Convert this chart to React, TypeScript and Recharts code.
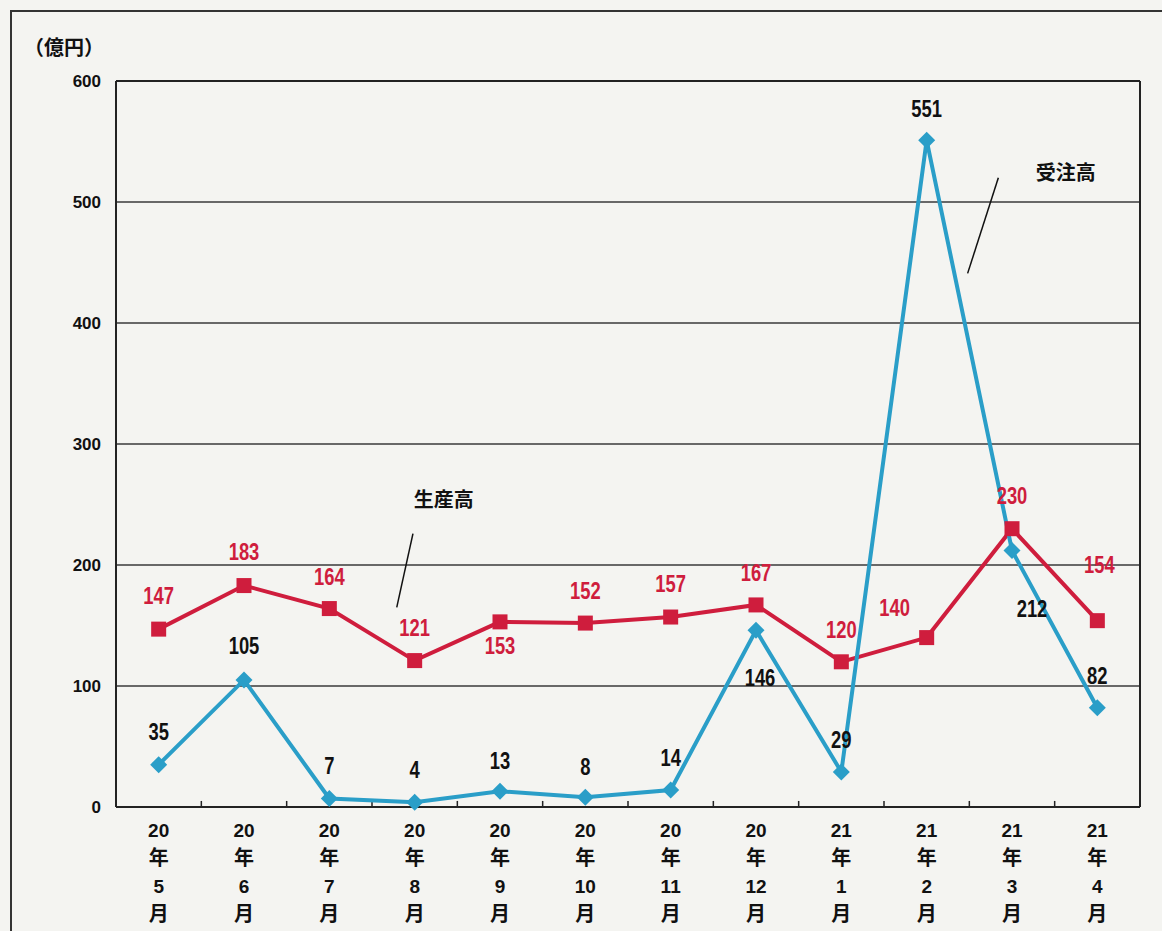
import React from "react";
import {
  LineChart, Line, XAxis, YAxis, CartesianGrid, ReferenceLine, ReferenceDot, LabelList,
} from "recharts";

const years = ["20", "20", "20", "20", "20", "20", "20", "20", "21", "21", "21", "21"];
const months = ["5", "6", "7", "8", "9", "10", "11", "12", "1", "2", "3", "4"];
const production = [147, 183, 164, 121, 153, 152, 157, 167, 120, 140, 230, 154];
const orders = [35, 105, 7, 4, 13, 8, 14, 146, 29, 551, 212, 82];
const yTicks = [0, 100, 200, 300, 400, 500, 600];

// where each value label sits relative to its point (dx, dy in px)
const prodLabelOffset = [
  [0, -33], [0, -34], [0, -32], [0, -33], [0, 24], [0, -32],
  [0, -33], [0, -32], [0, -32], [-32, -30], [0, -33], [2, -56],
];
const orderLabelOffset = [
  [0, -33], [0, -34], [0, -33], [0, -32], [0, -31], [0, -31],
  [0, -32], [4, 47], [0, -32], [0, -32], [20, 58], [0, -32],
];

const RED = "#cf1d3d";
const BLUE = "#2a9ec8";
const SANS = "'Liberation Sans', Arial, sans-serif";
const JP_FONT = "'Noto Sans CJK JP', 'Liberation Sans', sans-serif";

const data = years.map((y, i) => ({
  cat: `${y}年${months[i]}月`,
  idx: i,
  prod: production[i],
  orders: orders[i],
}));

const boundaries = years.slice(1).map((_, i) => i + 0.5);

const MonthTick = ({ x, y, index, payload }: any) => {
  const i = typeof index === "number" ? index : data.findIndex((d) => d.cat === payload.value);
  const lines = [years[i], "年", months[i], "月"];
  return (
    <text x={x} y={y} textAnchor="middle" fill="#111" fontWeight="bold">
      {lines.map((t, k) => (
        <tspan
          key={k}
          x={x}
          dy={28}
          fontSize={k % 2 === 1 ? 20 : 19}
          fontFamily={k % 2 === 1 ? JP_FONT : SANS}
        >
          {t}
        </tspan>
      ))}
    </text>
  );
};

const ValueTick = ({ x, y, payload }: any) => (
  <text x={x} y={y} textAnchor="end" dominantBaseline="central" fill="#111" fontSize={17} fontWeight="bold" fontFamily={SANS}>
    {payload.value}
  </text>
);

const makeLabel = (color: string, offsets: number[][]) => (props: any) => {
  const { x, y, value, index } = props;
  const [dx, dy] = offsets[index] || [0, -32];
  return (
    <text
      transform={`translate(${x + dx},${y + dy}) scale(0.8,1)`}
      textAnchor="middle"
      dominantBaseline="central"
      fill={color}
      fontFamily={SANS}
      fontSize={23}
      fontWeight="bold"
    >
      {value}
    </text>
  );
};

const SquareDot = (props: any) => {
  const { cx, cy } = props;
  if (cx == null || cy == null) return null;
  return <rect x={cx - 7.5} y={cy - 7.5} width={15} height={15} fill={RED} />;
};

const DiamondDot = (props: any) => {
  const { cx, cy } = props;
  if (cx == null || cy == null) return null;
  const r = 8.5;
  return <polygon points={`${cx},${cy - r} ${cx + r},${cy} ${cx},${cy + r} ${cx - r},${cy}`} fill={BLUE} />;
};

const calloutLabel = (value: string) => ({
  value, fill: "#111", fontSize: 20, fontWeight: "bold", fontFamily: JP_FONT, position: "center" as const,
});

export default function App() {
  return (
    <div style={{ position: "absolute", left: 0, top: 0, width: 1162, height: 931, background: "#f4f4f1", overflow: "hidden" }}>
      <div style={{ position: "absolute", left: 10, top: 10, width: 1170, height: 940, border: "2px solid #333" }} />
      <div
        style={{
          position: "absolute", left: 24, top: 32, fontFamily: JP_FONT, fontWeight: "bold",
          fontSize: 20, color: "#111",
        }}
      >
        （億円）
      </div>
      <div style={{ position: "absolute", left: 0, top: 0 }}>
        <LineChart width={1162} height={931} data={data} margin={{ top: 81, right: 22, left: 0, bottom: 0 }}>
          <CartesianGrid vertical={false} stroke="#3a3a3a" strokeWidth={1.3} />
          <XAxis
            dataKey="cat"
            scale="band"
            height={124}
            interval={0}
            tickLine={false}
            tickSize={0}
            axisLine={{ stroke: "#222", strokeWidth: 2 }}
            tick={<MonthTick />}
          />
          <XAxis xAxisId="n" type="number" dataKey="idx" domain={[-0.5, 11.5]} hide />
          <YAxis
            domain={[0, 600]}
            ticks={yTicks}
            width={116}
            tickLine={false}
            tickMargin={9}
            axisLine={{ stroke: "#222", strokeWidth: 2 }}
            tick={<ValueTick />}
          />
          <ReferenceLine y={600} stroke="#222" strokeWidth={2} />
          <ReferenceLine xAxisId="n" x={11.5} stroke="#222" strokeWidth={2} />
          {boundaries.map((b) => (
            <ReferenceLine
              key={b}
              xAxisId="n"
              segment={[{ x: b, y: 0 }, { x: b, y: 5 }]}
              stroke="#222"
              strokeWidth={1.5}
            />
          ))}
          {/* callouts */}
          <ReferenceLine
            xAxisId="n"
            segment={[{ x: 2.98, y: 226 }, { x: 2.79, y: 165 }]}
            stroke="#111"
            strokeWidth={1.5}
          />
          <ReferenceDot xAxisId="n" x={3.34} y={254} r={0} label={calloutLabel("生産高")} />
          <ReferenceLine
            xAxisId="n"
            segment={[{ x: 9.84, y: 520 }, { x: 9.48, y: 441 }]}
            stroke="#111"
            strokeWidth={1.5}
          />
          <ReferenceDot xAxisId="n" x={10.63} y={524} r={0} label={calloutLabel("受注高")} />
          <Line
            dataKey="prod"
            stroke={RED}
            strokeWidth={4}
            dot={<SquareDot />}
            activeDot={false}
            isAnimationActive={false}
          >
            <LabelList dataKey="prod" content={makeLabel(RED, prodLabelOffset)} />
          </Line>
          <Line
            dataKey="orders"
            stroke={BLUE}
            strokeWidth={4}
            dot={<DiamondDot />}
            activeDot={false}
            isAnimationActive={false}
          >
            <LabelList dataKey="orders" content={makeLabel("#111", orderLabelOffset)} />
          </Line>
        </LineChart>
      </div>
    </div>
  );
}
